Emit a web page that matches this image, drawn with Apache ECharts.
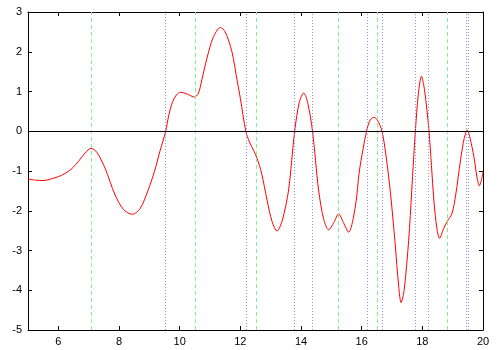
<!DOCTYPE html>
<html>
<head>
<meta charset="utf-8">
<script src="https://cdn.jsdelivr.net/npm/echarts@6/dist/echarts.min.js"></script>
<style>
  html, body { margin: 0; padding: 0; background: #fff; }
  #chart { width: 500px; height: 350px; }
</style>
</head>
<body>
<div id="chart"></div>
<script>
// curve samples
var curveX = [5.0, 5.25, 5.5, 5.89, 6.1, 6.33, 6.5, 6.66, 6.88, 7.08, 7.27, 7.54, 7.87, 8.15, 8.44, 8.7, 8.95, 9.17, 9.35, 9.54,
  9.64, 9.77, 9.9, 10.02, 10.24, 10.49, 10.62, 10.73, 10.9, 11.1, 11.34, 11.5, 11.72, 11.9, 12.0, 12.18, 12.3, 12.45, 12.55, 12.7, 12.88,
  13.05, 13.21, 13.38, 13.59, 13.79, 13.95, 14.09, 14.22, 14.38, 14.58, 14.75, 14.91, 15.08, 15.24, 15.4, 15.57, 15.79, 15.93, 16.16, 16.28,
  16.4, 16.52, 16.67, 16.8, 16.95, 17.1, 17.22, 17.3, 17.4, 17.55, 17.65, 17.77, 17.87, 17.97, 18.07, 18.22, 18.38, 18.48, 18.57, 18.7,
  18.82, 18.98, 19.1, 19.26, 19.38, 19.48, 19.58, 19.7, 19.8, 19.88, 19.95, 20.0];
var curveY = [-1.20, -1.23, -1.24, -1.17, -1.11, -1.01, -0.90, -0.76, -0.55, -0.43, -0.53, -0.93, -1.60, -1.97, -2.09, -1.94, -1.50, -1.01, -0.50, 0.00,
  0.40, 0.75, 0.92, 0.98, 0.94, 0.86, 0.96, 1.29, 1.84, 2.35, 2.61, 2.50, 2.01, 1.25, 0.83, 0.00, -0.27, -0.50, -0.68, -1.05, -1.73,
  -2.28, -2.51, -2.25, -1.48, 0.00, 0.75, 0.96, 0.72, 0.00, -1.48, -2.22, -2.48, -2.30, -2.08, -2.30, -2.54, -1.90, -0.97, 0.00, 0.28,
  0.35, 0.28, 0.00, -0.60, -1.56, -2.80, -3.90, -4.31, -4.00, -2.74, -1.50, 0.00, 0.95, 1.38, 1.05, 0.00, -1.73, -2.45, -2.69, -2.45,
  -2.27, -2.06, -1.60, -0.72, -0.18, 0.03, -0.20, -0.64, -1.15, -1.37, -1.22, -1.01];

// vertical markers
var greenX = [7.07, 10.52, 12.52, 15.24, 16.5, 18.82];
var blueX = [9.54, 12.19, 13.79, 14.38, 16.17, 16.67, 17.75, 18.21, 19.46, 19.51];

var xTicks = [6, 8, 10, 12, 14, 16, 18, 20];

var curve = curveX.map(function (x, i) { return [x, curveY[i]]; });

var font = 'Liberation Sans, Arial, sans-serif';

function xAxisCfg(pos, showLabel) {
  return {
    type: 'value', position: pos, min: 5, max: 20,
    axisLine: { show: true, onZero: false, lineStyle: { color: '#000', width: 1 } },
    axisTick: { show: true, inside: true, length: 4, customValues: xTicks, lineStyle: { color: '#000' } },
    axisLabel: { show: showLabel, customValues: xTicks, color: '#000', fontFamily: font, fontSize: 11, margin: 6 },
    splitLine: { show: false }
  };
}
function yAxisCfg(pos, showLabel) {
  return {
    type: 'value', position: pos, min: -5, max: 3, interval: 1,
    axisLine: { show: true, onZero: false, lineStyle: { color: '#000', width: 1 } },
    axisTick: { show: true, inside: true, length: 4, lineStyle: { color: '#000' } },
    axisLabel: { show: showLabel, color: '#000', fontFamily: font, fontSize: 11, margin: 6 },
    splitLine: { show: false }
  };
}

var option = {
  animation: false,
  backgroundColor: '#fff',
  grid: { left: 28, right: 17, top: 12, bottom: 20 },
  xAxis: [xAxisCfg('bottom', true), xAxisCfg('top', false)],
  yAxis: [yAxisCfg('left', true), yAxisCfg('right', false)],
  series: [
    {
      type: 'line', data: [], silent: true,
      markLine: {
        symbol: 'none', silent: true, animation: false,
        label: { show: false },
        emphasis: { disabled: true },
        data: greenX.map(function (v) {
          return { xAxis: v, lineStyle: { color: '#88f088', type: [4, 3], width: 1, opacity: 1 } };
        }).concat(blueX.map(function (v) {
          return { xAxis: v, lineStyle: { color: '#8c8cff', type: [1, 2], width: 1, opacity: 1 } };
        })).concat([{ yAxis: 0, lineStyle: { color: '#000', type: 'solid', width: 1, opacity: 1 } }])
      }
    },
    {
      type: 'line', data: curve, showSymbol: false, smooth: 0.3,
      lineStyle: { color: '#ff0000', width: 1 }
    }
  ]
};

var myChart = echarts.init(document.getElementById('chart'));
myChart.setOption(option);
</script>
</body>
</html>
